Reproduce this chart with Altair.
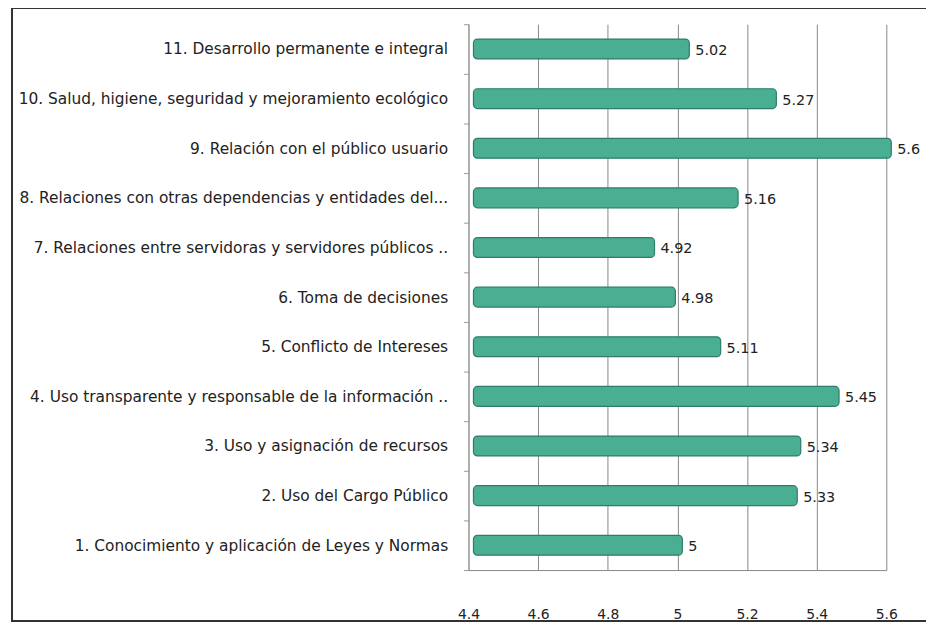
import altair as alt
import pandas as pd

categories = [
    "11. Desarrollo permanente e integral",
    "10. Salud, higiene, seguridad y mejoramiento ecológico",
    "9. Relación con el público usuario",
    "8. Relaciones con otras dependencias y entidades del...",
    "7. Relaciones entre servidoras y servidores públicos ..",
    "6. Toma de decisiones",
    "5. Conflicto de Intereses",
    "4. Uso transparente y responsable de la información ..",
    "3. Uso y asignación de recursos",
    "2. Uso del Cargo Público",
    "1. Conocimiento y aplicación de Leyes y Normas",
]
values = [5.02, 5.27, 5.6, 5.16, 4.92, 4.98, 5.11, 5.45, 5.34, 5.33, 5.0]
value_labels = ["5.02", "5.27", "5.6", "5.16", "4.92", "4.98", "5.11", "5.45", "5.34", "5.33", "5"]
x_ticks = [4.4, 4.6, 4.8, 5.0, 5.2, 5.4, 5.6]
x_min = 4.4

df = pd.DataFrame({"cat": categories, "val": values, "lab": value_labels, "base": [x_min] * len(values)})

FONT = "DejaVu Sans"

x_scale = alt.Scale(domain=[4.4, 5.6], zero=False, nice=False)
y_enc = alt.Y(
    "cat:N",
    sort=categories,
    title=None,
    scale=alt.Scale(paddingInner=0, paddingOuter=0),
    axis=alt.Axis(
        labelFont=FONT, labelFontSize=15.5, labelColor="#222222", labelPadding=16,
        labelLimit=470, tickBand="extent", tickSize=5, tickColor="#999999",
        domainColor="#999999", ticks=True, grid=False,
    ),
)

bars = alt.Chart(df).mark_bar(
    size=20, color="#4aae93", stroke="#2e7d68", strokeWidth=1.2, cornerRadiusEnd=4,
    xOffset=5, x2Offset=5,
).encode(
    x=alt.X(
        "val:Q", scale=x_scale, title=None,
        axis=alt.Axis(
            values=x_ticks, labelFont=FONT, labelFontSize=14, labelColor="#222222",
            labelPadding=38, ticks=False, domainColor="#888888", gridColor="#888888",
            gridWidth=1, labelFlush=False, labelExpr="format(datum.value, '.1~f')",
        ),
    ),
    x2="base:Q",
    y=y_enc,
)

text = alt.Chart(df).mark_text(
    align="left", baseline="middle", dx=11, dy=2, font=FONT, fontSize=14.5, color="#222222"
).encode(
    x=alt.X("val:Q", scale=x_scale),
    y=alt.Y("cat:N", sort=categories),
    text="lab:N",
)

frame = alt.Chart(df).mark_rect(
    fill=None, stroke="#333333", strokeWidth=1.5, clip=False
).encode(
    x=alt.value(-460), x2=alt.value(470), y=alt.value(-16), y2=alt.value(601)
)

chart = (
    alt.layer(bars, text, frame)
    .properties(
        width=421, height=550,
        autosize=alt.AutoSizeParams(type="none"),
        padding={"left": 464, "top": 14, "right": 40, "bottom": 50},
        background="white",
    )
    .configure_view(stroke=None)
)

chart.save("out.html", embed_options={"renderer": "svg", "actions": False})
